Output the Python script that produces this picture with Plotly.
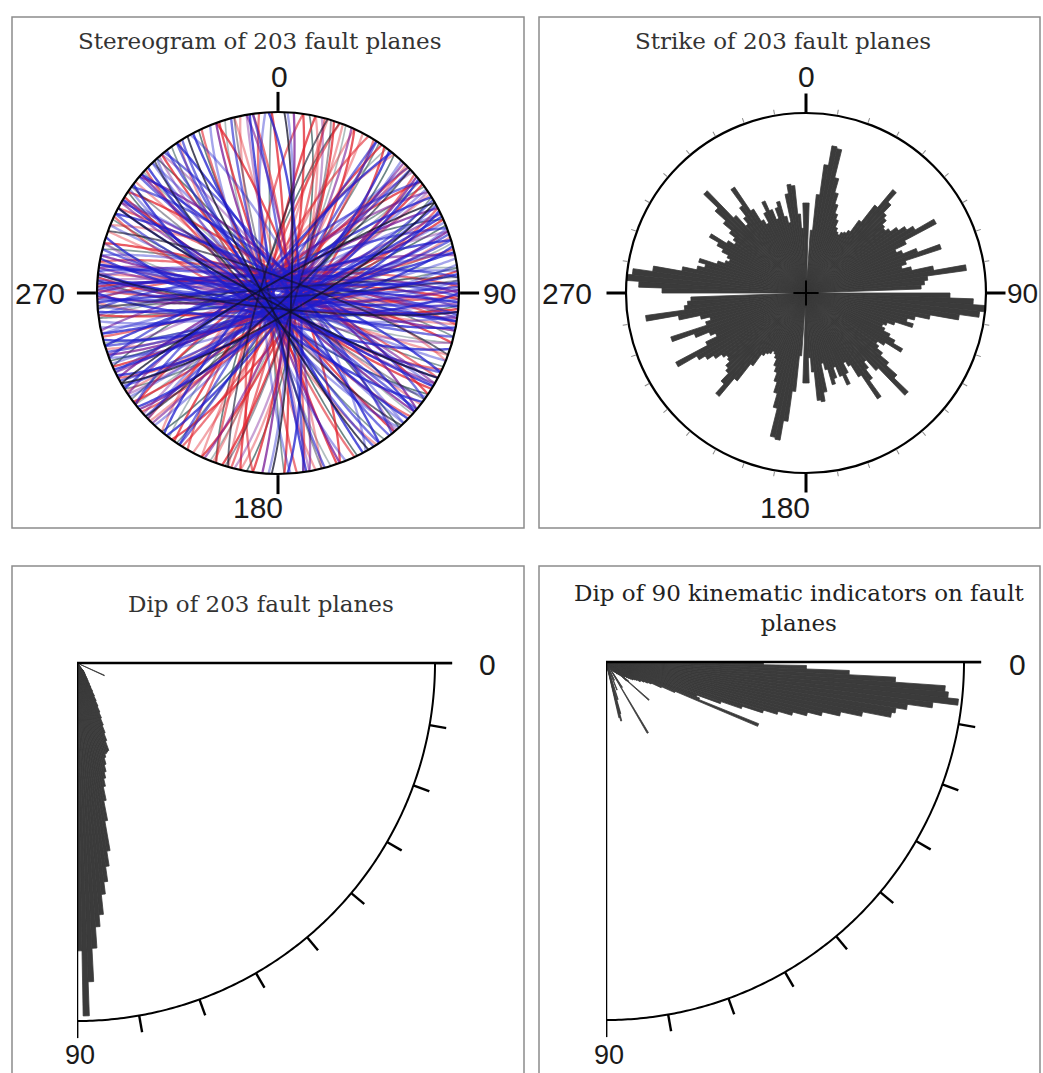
import numpy as np
import plotly.graph_objects as go

# ---------------------------------------------------------------------------
# Data
# ---------------------------------------------------------------------------

# Strike rose (bidirectional): 2-degree sectors from 0 to 180,
# lengths relative to the outer circle (1.0); mirrored onto 180-360.
strike_bin_start = list(range(0, 180, 2))
strike_len = [
    0.50, 0.08, 0.35, 0.55, 0.72, 0.83, 0.82, 0.66, 0.58, 0.52,
    0.47, 0.44, 0.40, 0.38, 0.37, 0.39, 0.40, 0.42, 0.50, 0.62,
    0.75, 0.68, 0.62, 0.60, 0.57, 0.56, 0.58, 0.62, 0.66, 0.70,
    0.82, 0.62, 0.55, 0.58, 0.66, 0.79, 0.58, 0.55, 0.60, 0.72,
    0.90, 0.68, 0.66, 0.64, 0.06, 0.80, 0.93, 1.00, 0.97, 0.86,
    0.70, 0.62, 0.58, 0.62, 0.52, 0.48, 0.46, 0.48, 0.52, 0.56,
    0.62, 0.52, 0.48, 0.50, 0.54, 0.60, 0.68, 0.79, 0.58, 0.50,
    0.54, 0.60, 0.71, 0.55, 0.47, 0.44, 0.50, 0.56, 0.50, 0.44,
    0.50, 0.53, 0.44, 0.40, 0.56, 0.61, 0.60, 0.44, 0.36, 0.50,
]

# Dip roses: 1-degree sectors from 0 to 90, lengths in % of the outer arc
dip_bin_start = list(range(0, 90))
dip_len = [
    0, 0, 0, 0, 0, 0, 0, 0, 0, 0,
    0, 0, 0, 0, 0, 0, 0, 0, 0, 0,
    0, 0, 0, 0, 8.4, 0, 0, 0, 0, 0,
    0, 0, 0, 0, 0, 0, 0, 0, 0, 0,
    0, 0, 0, 0, 0, 0, 0, 0, 0, 0,
    2.8, 3.1, 3.4, 3.6, 3.9, 4.2, 4.8, 5.3, 5.9, 6.7,
    7.8, 9.0, 10.4, 11.8, 13.4, 15.1, 16.8, 18.8, 21.0, 23.2,
    26.0, 26.3, 26.6, 27.5, 29.4, 31.4, 33.1, 35.3, 39.2, 44.8,
    53.2, 57.4, 61.6, 65.0, 70.6, 73.9, 79.8, 89.1, 98.6, 80.4,
]
kin_dip_len = [
    44, 56, 68, 81, 95, 96, 99, 92, 85, 82,
    81, 73, 67, 62, 58, 54, 50, 46, 40, 34,
    27, 28, 46, 21, 17, 14, 13, 12, 11, 11,
    10, 9.5, 9, 9, 8.4, 7.8, 7.3, 6.7, 6.7, 6.1,
    8.4, 16, 7.8, 5.6, 5, 5, 4.5, 4.5, 3.9, 3.9,
    3.4, 3.4, 0, 2.8, 0, 2.2, 0, 8.4, 0, 23,
    0, 0, 0, 0, 0, 5.6, 0, 0, 8.4, 0,
    0, 0, 11, 0, 15, 17, 16, 0, 0, 0,
    0, 0, 0, 0, 0, 0, 0, 0, 0, 0,
]

# Fault planes (strike, right-hand rule / dip), grouped by plot colour
blue_strike = [84, 86, 88, 90, 92, 94, 96, 97, 99, 101, 263, 265, 267, 269, 271, 273, 275, 277, 279, 282,
               104, 108, 112, 116, 121, 125, 130, 134, 138, 142, 296, 301, 306, 311, 316, 321, 326, 331, 146, 152,
               158, 165, 171, 176, 352, 357, 3, 33, 38, 43, 47, 51, 55, 59, 63, 67, 71, 75, 79, 213,
               219, 226, 232, 238, 244, 249, 253, 257, 61, 65, 69, 73, 77, 81, 118, 127, 136, 148]
blue_dip = [86, 82, 88, 79, 85, 87, 84, 80, 89, 83, 85, 81, 88, 86, 83, 87, 80, 84, 89, 82,
            85, 78, 87, 83, 86, 81, 88, 84, 79, 86, 83, 87, 80, 85, 88, 82, 86, 79, 84, 87,
            81, 85, 88, 83, 86, 80, 84, 87, 82, 85, 89, 81, 86, 83, 78, 87, 84, 80, 85, 88,
            82, 86, 79, 84, 87, 81, 85, 88, 83, 86, 80, 84, 87, 82, 85, 78, 86, 83]
red_strike = [8, 12, 15, 18, 21, 188, 192, 196, 200, 25, 28, 32, 36, 205, 210, 215, 220, 226, 232, 45,
              49, 53, 57, 62, 66, 72, 76, 83, 87, 91, 95, 100, 268, 272, 276, 280, 286, 292, 298, 304,
              110, 115, 122, 128, 133, 140, 147, 155, 161, 168, 174, 340, 346, 352, 358]
red_dip = [84, 80, 87, 82, 86, 79, 85, 88, 83, 81, 86, 84, 78, 87, 82, 85, 80, 88, 83, 86,
           81, 84, 87, 79, 85, 82, 88, 84, 80, 86, 83, 87, 81, 85, 88, 82, 84, 79, 86, 83,
           87, 81, 85, 88, 82, 86, 80, 84, 87, 83, 85, 81, 88, 84, 86]
purple_strike = [89, 93, 98, 270, 274, 278, 102, 106, 120, 131, 139, 300, 310, 320, 44, 50, 56, 64, 70, 228,
                 236, 242, 250, 258, 160, 170, 350, 5, 14, 24]
purple_dip = [85, 83, 87, 82, 86, 84, 88, 81, 85, 87, 83, 86, 80, 84, 87, 82, 85, 88, 83, 86,
              81, 84, 87, 82, 85, 88, 83, 86, 80, 84]
grey_strike = [10, 22, 34, 40, 52, 58, 68, 74, 82, 94, 106, 114, 124, 132, 144, 154, 163, 178, 200, 217,
               234, 246, 262, 284, 318]
grey_dip = [80, 84, 86, 82, 88, 79, 85, 83, 87, 81, 84, 86, 80, 88, 82, 85, 83, 87, 81, 84, 86, 80, 85, 83, 87]
black_strike = [2, 17, 47, 60, 86, 96, 118, 126, 137, 150, 166, 196, 240, 265, 290]
black_dip = [84, 82, 86, 80, 88, 83, 85, 87, 81, 84, 86, 82, 85, 88, 83]

# ---------------------------------------------------------------------------
# Helpers
# ---------------------------------------------------------------------------
W, H = 1043, 1073
BAR = "#3b3b3b"


def dom(x0, x1, y0, y1):
    """Subplot domain from pixel edges (y measured downward)."""
    return dict(x=[x0 / W, x1 / W], y=[1 - y1 / H, 1 - y0 / H])


def great_circle(strike, dip, n=121):
    """Lower-hemisphere equal-area trace of a plane: (trend deg, radius 0..1)."""
    s, d = np.radians(strike), np.radians(dip)
    phi = np.linspace(0, np.pi, n)
    dd = s + np.pi / 2
    north = np.cos(phi) * np.cos(s) + np.sin(phi) * np.cos(dd) * np.cos(d)
    east = np.cos(phi) * np.sin(s) + np.sin(phi) * np.sin(dd) * np.cos(d)
    down = np.sin(phi) * np.sin(d)
    plunge = np.arcsin(np.clip(down, -1, 1))
    trend = np.degrees(np.arctan2(east, north)) % 360
    r = np.sqrt(2) * np.sin((np.pi / 2 - plunge) / 2)
    return trend, r


fig = go.Figure()

# ---------------------------------------------------------------------------
# Stereogram
# ---------------------------------------------------------------------------
groups = [
    (grey_strike, grey_dip, (60, 95, 95), 1.7),
    (red_strike, red_dip, (225, 35, 45), 2.3),
    (purple_strike, purple_dip, (120, 25, 150), 2.3),
    (blue_strike, blue_dip, (30, 30, 205), 2.4),
    (black_strike, black_dip, (15, 15, 40), 1.9),
]
alphas = [0.75, 0.4, 0.6]
for strikes, dips, rgb, width in groups:
    for i, (s, d) in enumerate(zip(strikes, dips)):
        t, r = great_circle(s, d)
        colour = "rgba(%d,%d,%d,%.2f)" % (*rgb, alphas[i % 3])
        fig.add_trace(go.Scatterpolar(
            r=r, theta=t, mode="lines", subplot="polar",
            line=dict(color=colour, width=width),
            hoverinfo="skip", showlegend=False))

# ---------------------------------------------------------------------------
# Strike rose
# ---------------------------------------------------------------------------
strike_theta = [b + 1 for b in strike_bin_start] + [b + 181 for b in strike_bin_start]
strike_r = strike_len + strike_len
fig.add_trace(go.Barpolar(
    r=strike_r, theta=strike_theta, width=2, subplot="polar2",
    marker=dict(color=BAR, line=dict(color=BAR, width=0.8)),
    hoverinfo="skip", showlegend=False))
# centre cross
fig.add_trace(go.Scatterpolar(
    r=[0.07, 0, 0.07, None, 0.07, 0, 0.07], theta=[0, 0, 180, None, 90, 90, 270],
    mode="lines", subplot="polar2", line=dict(color="black", width=2),
    hoverinfo="skip", showlegend=False))
# cardinal-tick overlay needs a trace to be drawn
fig.add_trace(go.Scatterpolar(
    r=[0], theta=[0], mode="markers", subplot="polar3",
    marker=dict(size=1, opacity=0), hoverinfo="skip", showlegend=False))

# ---------------------------------------------------------------------------
# Dip roses (quarter circles); outer arc at 100, ticks reach TICK_OUT
# ---------------------------------------------------------------------------
ARC = 100
TICK_OUT = 104.8
dip_theta = [b + 0.5 for b in dip_bin_start]
arc_theta = list(np.linspace(0, 90, 181))
tick_r, tick_t = [], []
for a in range(0, 91, 10):
    tick_r += [ARC, TICK_OUT, None]
    tick_t += [a, a, None]

for sub, vals in (("polar4", dip_len), ("polar5", kin_dip_len)):
    fig.add_trace(go.Barpolar(
        r=vals, theta=dip_theta, width=1, subplot=sub,
        marker=dict(color=BAR, line=dict(color=BAR, width=0.8)),
        hoverinfo="skip", showlegend=False))
    # outer arc
    fig.add_trace(go.Scatterpolar(
        r=[ARC] * len(arc_theta), theta=arc_theta, mode="lines", subplot=sub,
        line=dict(color="black", width=2), cliponaxis=False,
        hoverinfo="skip", showlegend=False))
    # vertical edge of the quarter (dip = 90)
    fig.add_trace(go.Scatterpolar(
        r=[0, TICK_OUT], theta=[90, 90], mode="lines", subplot=sub,
        line=dict(color="black", width=2.5), cliponaxis=False,
        hoverinfo="skip", showlegend=False))
    # 10-degree ticks on the arc
    fig.add_trace(go.Scatterpolar(
        r=tick_r, theta=tick_t, mode="lines", subplot=sub,
        line=dict(color="black", width=2.4), cliponaxis=False,
        hoverinfo="skip", showlegend=False))

# ---------------------------------------------------------------------------
# Layout
# ---------------------------------------------------------------------------
hidden_radial = dict(range=[0, 1], showline=False, showticklabels=False,
                     ticks="", showgrid=False)

full_circle_common = dict(direction="clockwise", rotation=90, showgrid=False,
                          showticklabels=False)

quarter_angular = dict(direction="clockwise", rotation=0, showgrid=False,
                       showticklabels=False, ticks="", showline=False)
quarter_radial = dict(range=[0, TICK_OUT], angle=0, showline=True, linewidth=2.5,
                      linecolor="black", showticklabels=False, ticks="", showgrid=False)

R_Q = 358 * TICK_OUT / ARC   # pixel size of the quarter domain

fig.update_layout(
    width=W, height=H, autosize=False,
    margin=dict(l=0, r=0, t=0, b=0),
    paper_bgcolor="white", plot_bgcolor="white",
    showlegend=False,
    polar=dict(
        domain=dom(97, 459, 112, 474), bgcolor="white",
        angularaxis=dict(**full_circle_common, tickvals=[0, 90, 180, 270],
                         ticks="outside", ticklen=19, tickwidth=2.5, tickcolor="black",
                         showline=True, linewidth=2.2, linecolor="black"),
        radialaxis=hidden_radial),
    polar2=dict(
        domain=dom(626, 986, 113, 473), bgcolor="white",
        angularaxis=dict(**full_circle_common,
                         tickvals=[a for a in range(0, 360, 10) if a % 90],
                         ticks="outside", ticklen=5, tickwidth=1, tickcolor="#8a8a8a",
                         showline=True, linewidth=2.2, linecolor="black"),
        radialaxis=hidden_radial),
    polar3=dict(
        domain=dom(626, 986, 113, 473), bgcolor="rgba(0,0,0,0)",
        angularaxis=dict(**full_circle_common, tickvals=[0, 90, 180, 270],
                         ticks="outside", ticklen=19, tickwidth=2.5, tickcolor="black",
                         showline=False),
        radialaxis=hidden_radial),
    polar4=dict(
        domain=dom(77, 77 + R_Q, 663, 663 + R_Q), bgcolor="rgba(0,0,0,0)",
        sector=[270, 360], angularaxis=quarter_angular, radialaxis=quarter_radial),
    polar5=dict(
        domain=dom(606, 606 + R_Q, 662, 662 + R_Q), bgcolor="rgba(0,0,0,0)",
        sector=[270, 360], angularaxis=quarter_angular, radialaxis=quarter_radial),
)

# Panel frames
for x0, y0, x1, y1 in [(12, 17, 524, 528), (539, 17, 1040, 528),
                       (12, 566, 524, 1090), (539, 566, 1040, 1090)]:
    fig.add_shape(type="rect", xref="paper", yref="paper",
                  x0=x0 / W, x1=x1 / W, y0=1 - y1 / H, y1=1 - y0 / H,
                  line=dict(color="#8c8c8c", width=1.5), fillcolor="rgba(0,0,0,0)",
                  layer="below")


def label(text, x, y, size, family, color="#1a1a1a"):
    fig.add_annotation(text=text, x=x / W, y=1 - y / H, xref="paper", yref="paper",
                       xanchor="center", yanchor="middle", showarrow=False,
                       font=dict(size=size, family=family, color=color))


SERIF = "DejaVu Serif"
SANS = "Liberation Sans, Arial, sans-serif"

label("Stereogram of 203 fault planes", 259, 41, 23, SERIF, "#333333")
label("Strike of 203 fault planes", 783, 41, 23, SERIF, "#333333")
label("Dip of 203 fault planes", 261, 604, 23, SERIF, "#333333")
label("Dip of 90 kinematic indicators on fault<br>planes", 799, 608, 23, SERIF, "#222222")

# cardinal labels - stereogram
label("0", 279, 76, 30, SANS)
label("270", 40, 294, 30, SANS)
label("90", 499, 294, 30, SANS)
label("180", 258, 507, 30, SANS)
# cardinal labels - strike rose
label("0", 806, 76, 30, SANS)
label("270", 567, 294, 30, SANS)
label("90", 1022, 294, 28, SANS)
label("180", 785, 507, 30, SANS)
# dip quarter labels
label("0", 487, 664, 30, SANS)
label("90", 80, 1055, 27, SANS)
label("0", 1017, 664, 30, SANS)
label("90", 609, 1055, 27, SANS)

fig.write_html("out.html")
